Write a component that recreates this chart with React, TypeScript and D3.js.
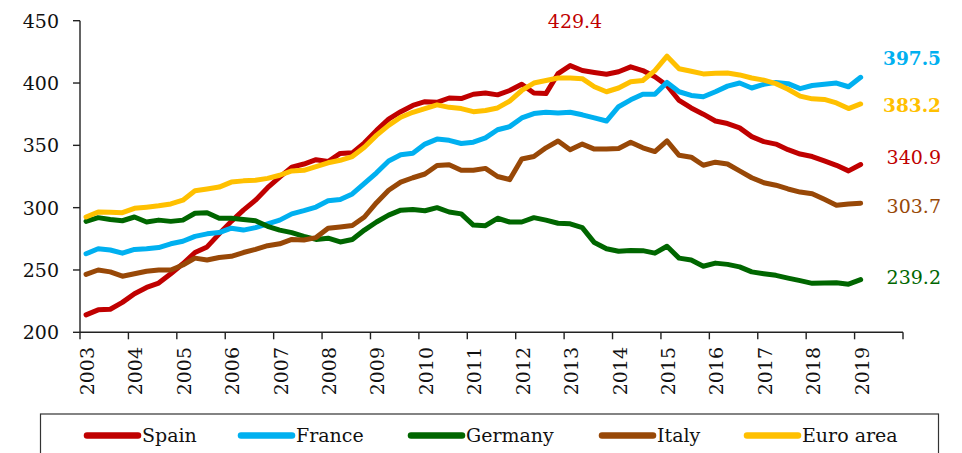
import React from "react";
import * as d3 from "d3";

const years = d3.range(2003, 2020);
const yTicks = [200, 250, 300, 350, 400, 450];

const spain = [214, 218, 218.5, 224, 231, 236, 239.5, 247, 255, 264, 268.5, 279, 289, 298, 306, 316, 324.5, 332.5, 335, 338.5, 337, 343.5, 344, 352, 362, 371, 377, 382, 385, 384.5, 388, 387.5, 391, 392, 390.5, 394, 399, 392, 391.5, 407.5, 414, 410, 408.5, 407, 409, 413, 410, 405, 398, 386, 380, 375, 369.5, 367.5, 364, 357, 353, 351, 346.5, 343, 341, 337.5, 334, 329.5, 334.6];
const france = [263, 267, 266, 263.5, 266.5, 267, 268, 271, 273, 277, 279, 280, 283.5, 282, 284, 287, 290, 295, 297.6, 300.5, 305.5, 306.5, 311, 319.5, 328, 337.5, 342.5, 343.7, 351, 355, 354, 351.5, 352.5, 356, 362.5, 365, 372, 375.5, 376.5, 376, 376.5, 374.5, 372, 369.5, 381, 386.5, 391, 391, 400.5, 393, 390, 389, 393, 397.5, 400, 396, 399, 400.5, 399.5, 395.5, 398, 399, 400, 397, 404.6];
const germany = [289, 292, 290.5, 289.5, 292.5, 288.5, 290, 289, 290, 295.5, 296, 291.5, 291.5, 290.5, 289.5, 285, 282, 280, 277, 274.5, 275.5, 272.5, 274.5, 282, 288.5, 294, 298, 298.6, 297.5, 300, 296.5, 295, 286, 285.5, 291.5, 288.5, 288.5, 292, 290, 287.5, 287, 284, 272, 267, 265, 265.7, 265.5, 263.5, 269, 259.5, 258, 253, 255.5, 254.5, 252.5, 248.5, 247, 245.7, 243.5, 241.5, 239.3, 239.5, 239.8, 238.6, 242.2];
const italy = [246.5, 250, 248.5, 245, 247, 249, 250, 250, 254, 259.5, 258, 260, 261, 264, 266.5, 269.5, 271, 274.5, 274, 276, 283.5, 284.5, 285.7, 292.5, 304, 314, 320.5, 324, 327, 333.8, 334.5, 330, 330, 331.5, 325, 322.5, 339, 341, 348, 353.5, 346.5, 351, 347, 347, 347.5, 352.5, 348, 345, 353.5, 342, 340.5, 334, 336.5, 335, 329.5, 324, 320, 318, 315, 312.5, 311.2, 306.7, 302, 303, 303.6];
const euroArea = [292.5, 296.5, 296.4, 296, 299.5, 300.4, 301.5, 303, 306, 313.5, 315, 316.5, 320.5, 321.5, 322, 323.5, 326, 329.5, 330, 333, 336, 338, 341, 348.5, 358, 366, 372.5, 376.5, 379.5, 382.5, 380.5, 379.5, 377, 378, 380, 385.5, 394, 400, 402, 404, 404, 403.5, 397, 393, 396, 401, 402, 410, 421.5, 411.5, 409.5, 407.3, 407.8, 408, 406.5, 404, 402.3, 399.5, 395, 389.5, 387.3, 386.8, 384, 379.5, 383.2];

const seriesNames = ["Spain", "France", "Germany", "Italy", "Euro area"];
const seriesValues = [spain, france, germany, italy, euroArea];
const seriesColors = ["#C00000", "#00B0F0", "#006600", "#984807", "#FFC000"];

const endLabels = ["340.9", "397.5", "239.2", "303.7", "383.2"];
const endLabelBold = [false, true, false, false, true];
const peakLabel = "429.4";

const W = 962;
const H = 453;
const FONT = "'DejaVu Serif', serif";
const FS = 19;

export default function App() {
  const x = d3.scaleLinear().domain([2003, 2020]).range([80, 903]);
  const y = d3.scaleLinear().domain([200, 450]).range([332.3, 20.7]);
  const tOf = (i: number) => 2003 + (i + 0.5) / 4;
  const line = d3
    .line<number>()
    .x((_, i) => x(tOf(i)))
    .y((d) => y(d));

  const endLabelY = [164, 65, 284, 213, 112];
  const legendX = [87, 241, 411, 602, 747];

  return (
    <svg
      width={W}
      height={H}
      style={{ position: "absolute", left: 0, top: 0, background: "#fff" }}
      fontFamily={FONT}
    >
      <rect x={0} y={0} width={W} height={H} fill="#fff" />
      {/* y axis */}
      <line x1={80} x2={80} y1={y(450)} y2={y(200)} stroke="#222" strokeWidth={1.4} />
      {yTicks.map((t) => (
        <g key={t}>
          <line x1={73} x2={80} y1={y(t)} y2={y(t)} stroke="#222" strokeWidth={1.4} />
          <text x={59} y={y(t) + 7} textAnchor="end" fontSize={FS} fill="#111">
            {t}
          </text>
        </g>
      ))}
      {/* x axis */}
      <line x1={x(2003)} x2={x(2020)} y1={y(200)} y2={y(200)} stroke="#222" strokeWidth={1.4} />
      {d3.range(2003, 2021).map((yr) => (
        <line key={yr} x1={x(yr)} x2={x(yr)} y1={y(200)} y2={y(200) + 7} stroke="#222" strokeWidth={1.4} />
      ))}
      {years.map((yr) => (
        <text
          key={yr}
          transform={`translate(${x(yr) + 14},${347}) rotate(-90)`}
          textAnchor="end"
          fontSize={FS}
          fill="#111"
        >
          {yr}
        </text>
      ))}
      {/* lines */}
      {seriesValues.map((vals, k) => (
        <path
          key={seriesNames[k]}
          d={line(vals) || ""}
          fill="none"
          stroke={seriesColors[k]}
          strokeWidth={5}
          strokeLinejoin="round"
          strokeLinecap="round"
        />
      ))}
      {/* labels */}
      {endLabels.map((lab, k) => (
        <text
          key={lab}
          x={941}
          y={endLabelY[k]}
          textAnchor="end"
          fontSize={endLabelBold[k] ? 18.5 : FS}
          fontWeight={endLabelBold[k] ? "bold" : "normal"}
          fill={seriesColors[k]}
        >
          {lab}
        </text>
      ))}
      <text x={575} y={28} textAnchor="middle" fontSize={FS} fill="#C00000">
        {peakLabel}
      </text>
      {/* legend */}
      <rect x={40.5} y={414} width={898} height={60} fill="none" stroke="#333" strokeWidth={1.2} />
      {seriesNames.map((n, k) => (
        <g key={n}>
          <line
            x1={legendX[k]}
            x2={legendX[k] + 51}
            y1={435.5}
            y2={435.5}
            stroke={seriesColors[k]}
            strokeWidth={6.5}
            strokeLinecap="round"
          />
          <text x={legendX[k] + 55} y={442} fontSize={FS} fill="#111">
            {n}
          </text>
        </g>
      ))}
    </svg>
  );
}
